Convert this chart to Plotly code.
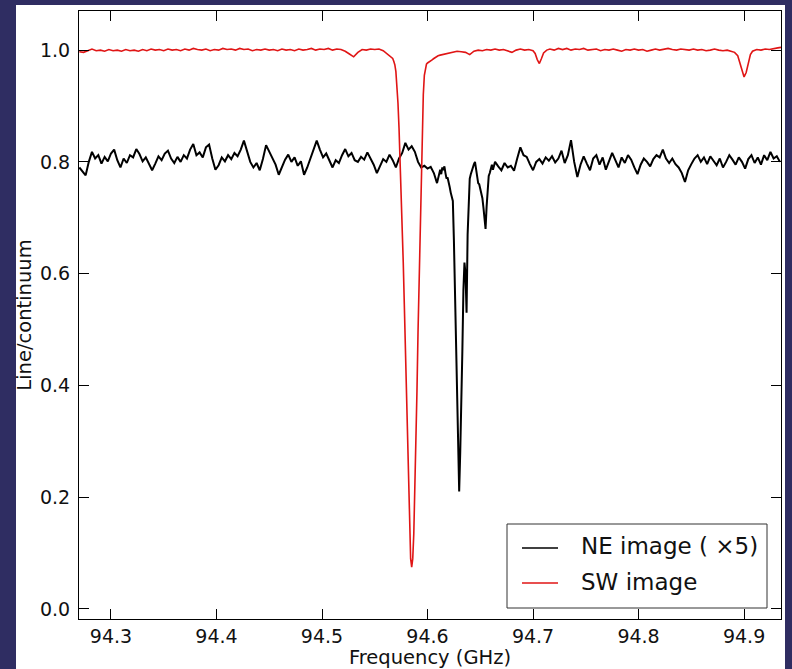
import numpy as np
import plotly.graph_objects as go

# ---------------- data ----------------
# NE image (x5) -- black
ne_freq_a = [94.270, 94.273, 94.276, 94.279, 94.282, 94.285, 94.288, 94.291, 94.294, 94.297,
             94.300, 94.303, 94.306, 94.309, 94.312, 94.315, 94.318, 94.321, 94.324, 94.327,
             94.330, 94.333, 94.336, 94.339, 94.342, 94.345, 94.348, 94.351, 94.354, 94.357,
             94.360, 94.363, 94.366, 94.369, 94.372, 94.375, 94.378, 94.381, 94.384, 94.387,
             94.390, 94.393, 94.396, 94.399, 94.402, 94.405, 94.408, 94.411, 94.414, 94.417,
             94.420, 94.423, 94.426, 94.429, 94.432, 94.435, 94.438, 94.441, 94.444, 94.447,
             94.450, 94.453, 94.456, 94.459, 94.462, 94.465, 94.468, 94.471, 94.474, 94.477,
             94.480, 94.483, 94.486, 94.489, 94.492, 94.495, 94.498, 94.501, 94.504, 94.507,
             94.510, 94.513, 94.516, 94.519, 94.522, 94.525, 94.528, 94.531, 94.534, 94.537,
             94.540, 94.543, 94.546, 94.549, 94.552, 94.555, 94.558, 94.561, 94.564, 94.567,
             94.570, 94.573, 94.576, 94.579, 94.582, 94.585, 94.588, 94.591, 94.594, 94.597,
             94.600, 94.603, 94.606, 94.609]
ne_val_a = [0.790, 0.782, 0.776, 0.800, 0.818, 0.806, 0.812, 0.797, 0.809, 0.801,
            0.815, 0.822, 0.803, 0.790, 0.806, 0.798, 0.812, 0.808, 0.823, 0.814,
            0.801, 0.808, 0.795, 0.785, 0.797, 0.810, 0.803, 0.815, 0.820, 0.806,
            0.798, 0.809, 0.800, 0.812, 0.806, 0.822, 0.832, 0.812, 0.817, 0.808,
            0.826, 0.831, 0.806, 0.786, 0.794, 0.808, 0.801, 0.812, 0.805, 0.816,
            0.810, 0.822, 0.838, 0.818, 0.800, 0.790, 0.798, 0.785, 0.805, 0.830,
            0.818, 0.806, 0.795, 0.777, 0.790, 0.804, 0.813, 0.800, 0.808, 0.793,
            0.801, 0.777, 0.790, 0.806, 0.820, 0.838, 0.822, 0.808, 0.815, 0.802,
            0.790, 0.803, 0.798, 0.812, 0.823, 0.810, 0.816, 0.803, 0.800, 0.809,
            0.804, 0.817, 0.806, 0.795, 0.780, 0.792, 0.805, 0.800, 0.813, 0.803,
            0.790, 0.806, 0.816, 0.834, 0.822, 0.828, 0.818, 0.800, 0.790, 0.793,
            0.788, 0.791, 0.780, 0.762]
ne_freq_b = [94.610, 94.611, 94.612, 94.613, 94.614, 94.615, 94.616, 94.617, 94.618, 94.619,
             94.620, 94.621, 94.622, 94.623, 94.624, 94.625, 94.626, 94.627, 94.628, 94.629,
             94.630, 94.631, 94.632, 94.633, 94.634, 94.635, 94.636, 94.637, 94.638, 94.639,
             94.640, 94.641, 94.642, 94.643, 94.644, 94.645, 94.646, 94.647, 94.648, 94.649,
             94.650, 94.651, 94.652, 94.653, 94.654, 94.655, 94.656, 94.657, 94.658, 94.659,
             94.660, 94.661, 94.662, 94.663, 94.664]
ne_val_b = [0.772, 0.780, 0.786, 0.778, 0.790, 0.785, 0.792, 0.780, 0.770, 0.772,
            0.760, 0.755, 0.745, 0.738, 0.730, 0.660, 0.570, 0.480, 0.390, 0.300,
            0.210, 0.280, 0.350, 0.460, 0.570, 0.620, 0.600, 0.530, 0.670, 0.730,
            0.770, 0.778, 0.785, 0.790, 0.796, 0.800, 0.788, 0.770, 0.762, 0.760,
            0.752, 0.745, 0.735, 0.718, 0.700, 0.680, 0.720, 0.762, 0.775, 0.780,
            0.789, 0.795, 0.786, 0.792, 0.800]
ne_freq_c = [94.667, 94.670, 94.673, 94.676, 94.679, 94.682, 94.685, 94.688, 94.691, 94.694,
             94.697, 94.700, 94.703, 94.706, 94.709, 94.712, 94.715, 94.718, 94.721, 94.724,
             94.727, 94.730, 94.733, 94.736, 94.739, 94.742, 94.745, 94.748, 94.751, 94.754,
             94.757, 94.760, 94.763, 94.766, 94.769, 94.772, 94.775, 94.778, 94.781, 94.784,
             94.787, 94.790, 94.793, 94.796, 94.799, 94.802, 94.805, 94.808, 94.811, 94.814,
             94.817, 94.820, 94.823, 94.826, 94.829, 94.832, 94.835, 94.838, 94.841, 94.844,
             94.847, 94.850, 94.853, 94.856, 94.859, 94.862, 94.865, 94.868, 94.871, 94.874,
             94.877, 94.880, 94.883, 94.886, 94.889, 94.892, 94.895, 94.898, 94.901, 94.904,
             94.907, 94.910, 94.913, 94.916, 94.919, 94.922, 94.925, 94.928, 94.931, 94.934]
ne_val_c = [0.792, 0.785, 0.798, 0.790, 0.793, 0.784, 0.806, 0.826, 0.812, 0.809,
            0.796, 0.785, 0.800, 0.805, 0.797, 0.808, 0.802, 0.810, 0.799, 0.806,
            0.820, 0.798, 0.812, 0.839, 0.800, 0.773, 0.795, 0.810, 0.797, 0.785,
            0.806, 0.812, 0.795, 0.808, 0.786, 0.800, 0.816, 0.803, 0.790, 0.808,
            0.798, 0.812, 0.804, 0.790, 0.778, 0.795, 0.806, 0.800, 0.792, 0.805,
            0.812, 0.808, 0.822, 0.806, 0.798, 0.806, 0.796, 0.790, 0.780, 0.764,
            0.785, 0.796, 0.806, 0.812, 0.800, 0.808, 0.796, 0.810, 0.802, 0.794,
            0.806, 0.790, 0.800, 0.812, 0.804, 0.795, 0.808, 0.800, 0.788, 0.805,
            0.812, 0.798, 0.808, 0.795, 0.812, 0.803, 0.818, 0.806, 0.810, 0.800]

# SW image -- red
sw_freq_a = [94.270, 94.274, 94.278, 94.282, 94.286, 94.290, 94.294, 94.298, 94.302, 94.306,
             94.310, 94.314, 94.318, 94.322, 94.326, 94.330, 94.334, 94.338, 94.342, 94.346,
             94.350, 94.354, 94.358, 94.362, 94.366, 94.370, 94.374, 94.378, 94.382, 94.386,
             94.390, 94.394, 94.398, 94.402, 94.406, 94.410, 94.414, 94.418, 94.422, 94.426,
             94.430, 94.434, 94.438, 94.442, 94.446, 94.450, 94.454, 94.458, 94.462, 94.466,
             94.470, 94.474, 94.478, 94.482, 94.486, 94.490, 94.494, 94.498, 94.502, 94.506,
             94.510, 94.514, 94.518, 94.522, 94.526, 94.530, 94.534, 94.538, 94.542, 94.546,
             94.550, 94.554, 94.558]
sw_val_a = [0.997, 0.996, 0.999, 1.002, 0.999, 1.000, 0.998, 1.001, 0.999, 1.000,
            0.998, 1.001, 0.999, 1.000, 0.998, 1.001, 0.999, 1.002, 1.000, 1.001,
            0.999, 1.002, 1.000, 1.001, 0.999, 1.002, 1.000, 1.003, 1.001, 1.000,
            1.002, 0.999, 1.001, 1.000, 1.003, 1.001, 1.002, 1.000, 1.003, 1.001,
            1.002, 0.999, 1.001, 1.000, 1.002, 1.000, 1.001, 0.999, 1.002, 1.000,
            1.001, 0.999, 1.002, 1.000, 1.001, 1.003, 1.000, 1.002, 1.001, 1.003,
            1.000, 1.002, 1.001, 0.998, 0.993, 0.988, 0.996, 1.001, 1.000, 1.002,
            1.001, 1.002, 0.999]
sw_freq_b = [94.560, 94.562, 94.564, 94.566, 94.567, 94.568, 94.569, 94.570, 94.571, 94.572,
             94.573, 94.574, 94.575, 94.576, 94.577, 94.578, 94.579, 94.580, 94.581, 94.582,
             94.583, 94.584, 94.585, 94.586, 94.587, 94.588, 94.589, 94.590, 94.591, 94.592,
             94.593, 94.594, 94.595, 94.596, 94.597, 94.598, 94.599, 94.600, 94.602, 94.604,
             94.606, 94.608, 94.610, 94.612]
sw_val_b = [0.996, 0.994, 0.991, 0.988, 0.985, 0.980, 0.974, 0.962, 0.940, 0.905,
            0.860, 0.805, 0.745, 0.685, 0.620, 0.545, 0.465, 0.380, 0.295, 0.210,
            0.140, 0.090, 0.075, 0.090, 0.135, 0.205, 0.290, 0.390, 0.495, 0.590,
            0.690, 0.790, 0.860, 0.920, 0.955, 0.970, 0.975, 0.977, 0.979, 0.982,
            0.985, 0.988, 0.990, 0.991]
sw_freq_c = [94.616, 94.620, 94.624, 94.628, 94.632, 94.636, 94.640, 94.644, 94.648, 94.652,
             94.656, 94.660, 94.664, 94.668, 94.672, 94.676, 94.680, 94.684, 94.688, 94.692,
             94.696, 94.700, 94.702, 94.704, 94.706, 94.708, 94.710, 94.713, 94.716, 94.720,
             94.724, 94.728, 94.732, 94.736, 94.740, 94.744, 94.748, 94.752, 94.756, 94.760,
             94.764, 94.768, 94.772, 94.776, 94.780, 94.784, 94.788, 94.792, 94.796, 94.800,
             94.804, 94.808, 94.812, 94.816, 94.820, 94.824, 94.828, 94.832, 94.836, 94.840,
             94.844, 94.848, 94.852, 94.856, 94.860, 94.864, 94.868, 94.872, 94.876, 94.880,
             94.884, 94.888, 94.891, 94.894, 94.896, 94.898, 94.900, 94.902, 94.904, 94.906,
             94.908, 94.912, 94.916, 94.920, 94.924, 94.928, 94.932, 94.935]
sw_val_c = [0.993, 0.995, 0.996, 0.998, 0.997, 0.996, 0.992, 0.998, 1.000, 0.999,
            1.001, 1.000, 1.002, 1.000, 1.001, 0.998, 0.996, 1.000, 1.002, 1.000,
            1.001, 0.999, 0.994, 0.983, 0.976, 0.985, 0.995, 1.000, 1.002, 1.000,
            1.003, 1.001, 1.003, 1.000, 1.002, 1.001, 1.003, 1.000, 1.001, 1.002,
            0.999, 1.001, 1.000, 1.002, 1.000, 0.998, 1.001, 1.000, 1.002, 1.000,
            1.001, 0.998, 1.000, 1.002, 1.000, 1.001, 1.003, 1.001, 1.000, 1.002,
            1.001, 1.000, 1.002, 1.000, 1.001, 0.999, 1.000, 1.002, 1.000, 0.999,
            1.000, 0.998, 0.996, 0.990, 0.978, 0.962, 0.952, 0.960, 0.978, 0.992,
            0.998, 1.001, 1.000, 1.002, 1.001, 1.003, 1.004, 1.005]

series_names = ["NE image ( \u00d75)", "SW image"]
series_colors = ["black", "#e01515"]
x_ticks = [94.3, 94.4, 94.5, 94.6, 94.7, 94.8, 94.9]
y_ticks = [0.0, 0.2, 0.4, 0.6, 0.8, 1.0]
x_range = [94.2697, 94.935]
y_range = [-0.018, 1.07]

ne_freq = ne_freq_a + ne_freq_b + ne_freq_c
ne_val = ne_val_a + ne_val_b + ne_val_c
sw_freq = sw_freq_a + sw_freq_b + sw_freq_c
sw_val = sw_val_a + sw_val_b + sw_val_c

# ---------------- figure ----------------
FONT = "DejaVu Sans"
NAVY = "#2f2d62"
TXT = "#111111"

fig = go.Figure()
fig.add_trace(go.Scatter(x=ne_freq, y=ne_val, mode="lines", name=series_names[0],
                         line=dict(color=series_colors[0], width=2), showlegend=False))
fig.add_trace(go.Scatter(x=sw_freq, y=sw_val, mode="lines", name=series_names[1],
                         line=dict(color=series_colors[1], width=1.6), showlegend=False))

W, H = 792, 669
L, R, T, B = 79, 11, 11, 50
pw, ph = W - L - R, H - T - B

def px(xp):
    return (xp - L) / pw

def py(yp):
    return (H - B - yp) / ph

# white page panel on navy slide background
fig.add_shape(type="rect", xref="paper", yref="paper",
              x0=px(16), x1=px(785), y0=py(680), y1=py(5),
              fillcolor="white", line=dict(width=0), layer="below")

# legend box (drawn by hand to match matplotlib's legend geometry)
fig.add_shape(type="rect", xref="paper", yref="paper",
              x0=px(507), x1=px(767), y0=py(608), y1=py(524),
              fillcolor="white", line=dict(color="#333", width=1), layer="above")
for i, (name, col) in enumerate(zip(series_names, series_colors)):
    yc = py(548 + 35 * i)
    fig.add_shape(type="line", xref="paper", yref="paper",
                  x0=px(522), x1=px(558), y0=yc, y1=yc,
                  line=dict(color=col, width=1.5), layer="above")
    fig.add_annotation(xref="paper", yref="paper", x=px(579), y=py(546 + 36 * i),
                       xanchor="left", yanchor="middle", showarrow=False,
                       text=name, font=dict(family=FONT, size=23, color=TXT))

axis_common = dict(showline=True, linecolor="black", linewidth=1.2, mirror="allticks",
                   ticks="inside", ticklen=10, tickwidth=1, tickcolor="black",
                   showgrid=False, zeroline=False,
                   tickfont=dict(family=FONT, size=19, color=TXT))

fig.update_xaxes(range=x_range, tickvals=x_ticks, ticktext=[f"{v:.1f}" for v in x_ticks],
                 title=dict(text="Frequency (GHz)", font=dict(family=FONT, size=19.5, color=TXT),
                            standoff=5),
                 ticklabelstandoff=0, **axis_common)
fig.update_yaxes(range=y_range, tickvals=y_ticks, ticktext=[f"{v:.1f}" for v in y_ticks],
                 title=dict(text="Line/continuum", font=dict(family=FONT, size=19.5, color=TXT),
                            standoff=3),
                 ticklabelstandoff=4, **axis_common)

fig.update_layout(
    width=W, height=H,
    margin=dict(l=L, r=R, t=T, b=B, autoexpand=False),
    paper_bgcolor=NAVY, plot_bgcolor="white",
    showlegend=False,
)

fig.write_html("out.html")
